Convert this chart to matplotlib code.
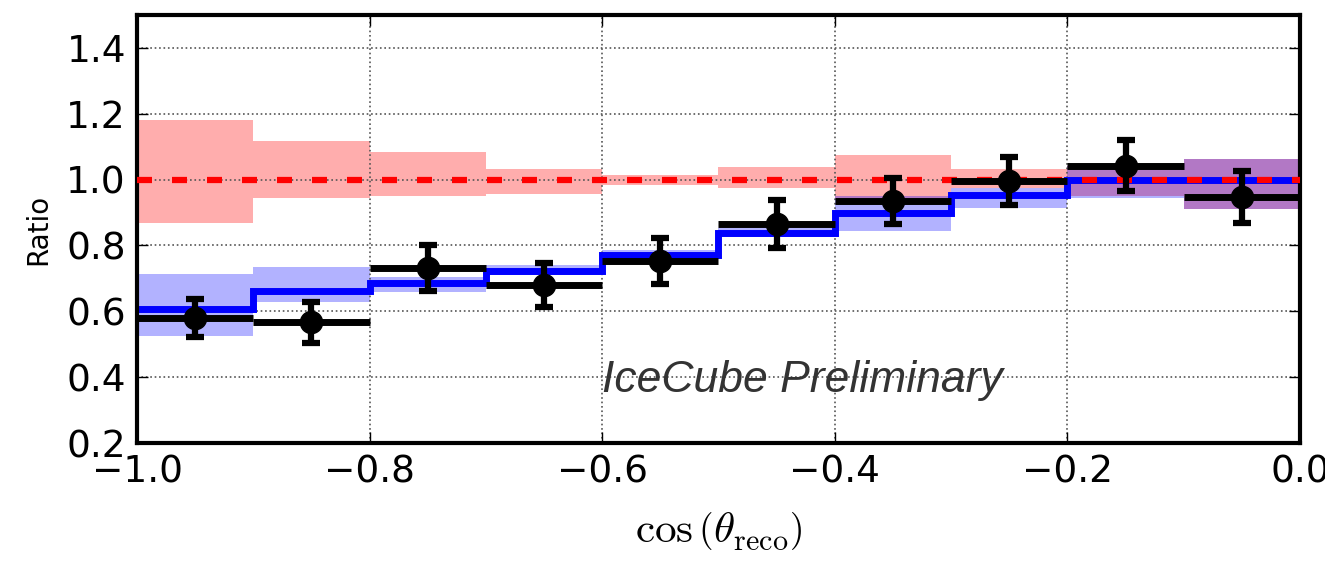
import numpy as np
import matplotlib
matplotlib.use("Agg")
import matplotlib.pyplot as plt

plt.rcParams['mathtext.fontset'] = 'cm'

# bin edges in cos(theta_reco)
edges = [-1.0, -0.9, -0.8, -0.7, -0.6, -0.5, -0.4, -0.3, -0.2, -0.1, 0.0]
centers = [-0.95, -0.85, -0.75, -0.65, -0.55, -0.45, -0.35, -0.25, -0.15, -0.05]

# data / no-oscillation ratio
ratio = [0.580, 0.567, 0.731, 0.680, 0.752, 0.865, 0.934, 0.996, 1.042, 0.947]
ratio_err = [0.058, 0.062, 0.070, 0.066, 0.070, 0.072, 0.070, 0.072, 0.077, 0.080]

# best fit ratio and its band
fit = [0.608, 0.662, 0.685, 0.724, 0.770, 0.837, 0.898, 0.953, 1.000, 1.000]
fit_lo = [0.526, 0.627, 0.658, 0.709, 0.758, 0.825, 0.843, 0.914, 0.945, 0.912]
fit_hi = [0.714, 0.734, 0.704, 0.740, 0.785, 0.852, 0.950, 0.975, 1.040, 1.062]

# no-oscillation band around 1
null_lo = [0.868, 0.945, 0.950, 0.955, 0.985, 0.975, 0.945, 0.975, 0.950, 0.912]
null_hi = [1.180, 1.116, 1.083, 1.032, 1.015, 1.037, 1.075, 1.032, 1.040, 1.062]

fig = plt.figure(figsize=(13.25, 5.68), dpi=100)
ax = fig.add_axes([0.1034, 0.22, 0.8777, 0.7536])

ax.stairs(null_hi, edges, baseline=null_lo, fill=True, color='red', alpha=0.32, lw=0)
ax.stairs(fit_hi, edges, baseline=fit_lo, fill=True, color='blue', alpha=0.3, lw=0)
ax.stairs(fit, edges, baseline=None, color='blue', lw=5, zorder=2)
ax.axhline(1.0, color='red', lw=4.5, linestyle=(0, (2.4, 3.2)), zorder=3)

# horizontal bars span the bin, vertical bars get caps
xerr = np.diff(edges) / 2
ax.errorbar(centers, ratio, xerr=xerr, fmt='none', ecolor='black',
            elinewidth=5, capsize=0, zorder=4)
ax.errorbar(centers, ratio, yerr=ratio_err, fmt='o', color='black',
            ms=16, elinewidth=4.5, capsize=6.5, capthick=4.5, zorder=4)

ax.text(-0.6, 0.39, 'IceCube Preliminary', family='Liberation Sans', style='italic',
        fontsize=32, color='#333333', va='center', ha='left', zorder=5)

ax.set_xlim(-1.0, 0.0)
ax.set_ylim(0.2, 1.5)
ax.set_xticks([-1.0, -0.8, -0.6, -0.4, -0.2, 0.0])
ax.set_yticks([0.2, 0.4, 0.6, 0.8, 1.0, 1.2, 1.4])
ax.set_axisbelow('line')
ax.grid(True, linestyle=':', color='#555555', lw=1.2)
ax.tick_params(direction='in', length=8, width=1, labelsize=27,
               top=True, right=True, pad=8)
for sp in ax.spines.values():
    sp.set_linewidth(3)

ax.set_ylabel('Ratio', fontsize=20, labelpad=10)
ax.set_xlabel(r'$\cos\left(\theta_{\rm reco}\right)$', fontsize=31, labelpad=14)

fig.savefig('out.png', dpi=100)
